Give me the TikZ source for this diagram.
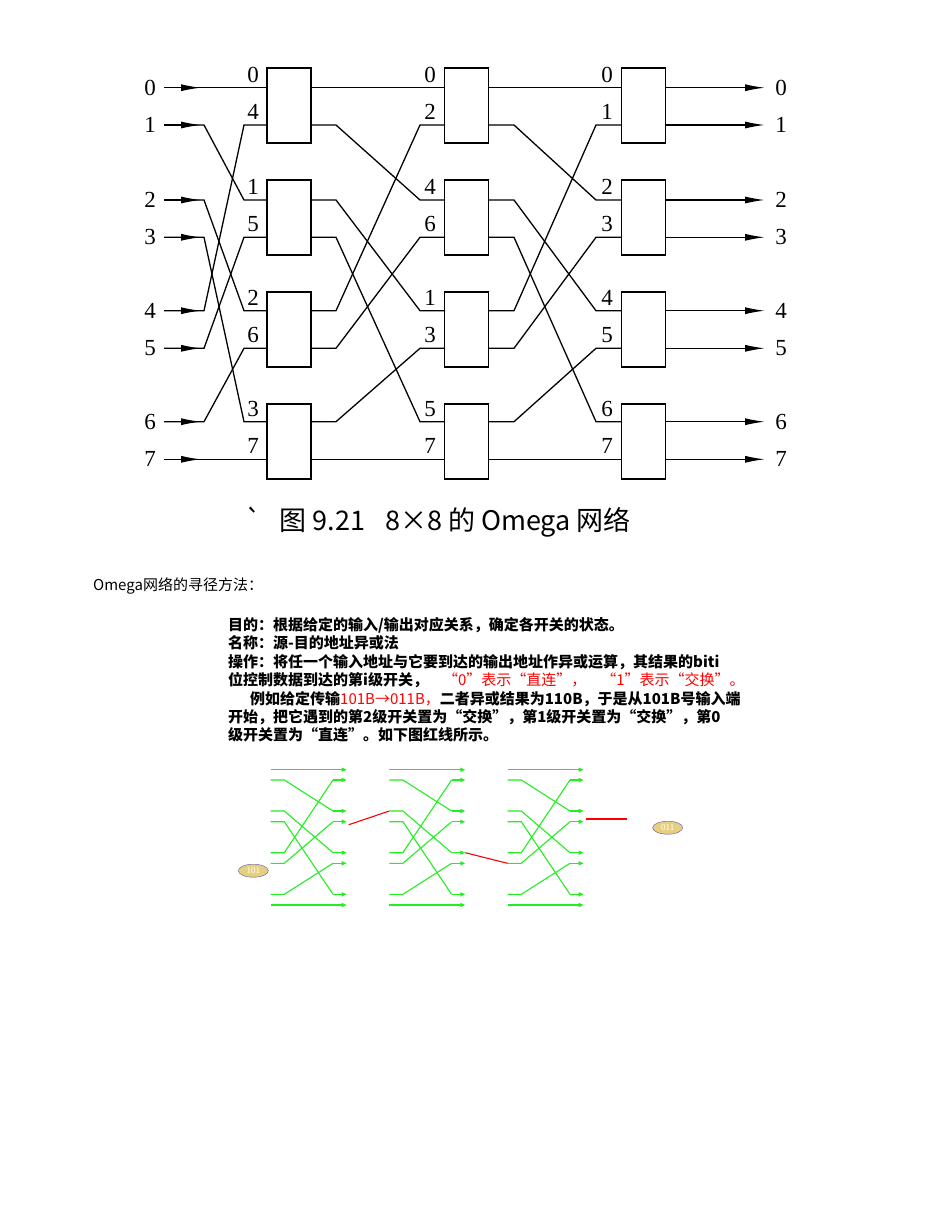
\documentclass[tikz,border=0pt]{standalone}
\usepackage{fontspec}
\setmainfont{Liberation Serif}
\newfontfamily\cjk{Noto Sans CJK SC}
\usetikzlibrary{arrows.meta,shapes.geometric}
\definecolor{gr}{HTML}{22EE22}
\definecolor{tan}{HTML}{E6CF80}
\begin{document}
\begin{tikzpicture}[x=1pt,y=-1pt,
  wire/.style={line width=1.3pt},
  sw/.style={draw,line width=1.3pt,minimum width=44pt,minimum height=75pt,inner sep=0pt},
  plab/.style={font=\fontsize{23}{23}\selectfont},
  bigarr/.style={line width=1.3pt,-{Latex[length=20pt,width=7pt]}},
  garr/.style={gr,line width=1.2pt,-{Triangle[length=5pt,width=4pt]}},
  gw/.style={gr,line width=1.1pt},
  rw/.style={red,line width=1.1pt},
  txt/.style={anchor=west,inner sep=0pt,font=\cjk\bfseries\fontsize{15}{15}\selectfont},
  addr/.style={ellipse,draw=gray!70!blue,fill=tan,minimum width=30pt,minimum height=13pt,inner sep=0pt,text=white,font=\fontsize{9}{9}\selectfont}]
\useasboundingbox[fill=white] (0,0) rectangle (935,1210);
\def\rows{{87.7,125,200,237.3,310.7,348.3,421.7,459.3}}
\def\sh{{0,2,4,6,1,3,5,7}}
\def\tops{{68,180,292,404}}
% boxes
\foreach \k in {0,...,3}{
  \pgfmathsetmacro\ty{\tops[\k]}
  \node[sw] (a\k) at (289,\ty+37.5) {};
  \node[sw] (b\k) at (466.5,\ty+37.5) {};
  \node[sw] (c\k) at (643.5,\ty+37.5) {};
}
% labels
\def\la{{0,4,1,5,2,6,3,7}}
\def\lb{{0,2,4,6,1,3,5,7}}
\foreach \j in {0,...,7}{
  \pgfmathsetmacro\y{\rows[\j]}
  \pgfmathtruncatemacro\A{\la[\j]}
  \pgfmathtruncatemacro\B{\lb[\j]}
  \node[plab] (li\j) at (150,\y) {\j};
  \node[plab] (lo\j) at (781,\y) {\j};
  \node[plab] (pa\j) at (253,\y-13) {\A};
  \node[plab] (pb\j) at (430,\y-13) {\B};
  \node[plab] (pc\j) at (607,\y-13) {\j};
  \pgfmathtruncatemacro\s{\sh[\j]}
  \pgfmathsetmacro\ys{\rows[\s]}
  \coordinate (i\j) at (164,\y);
  \draw[wire] (i\j) -- (204,\y) -- (244,\ys) -- (267,\ys);
  \draw[bigarr] (i\j) -- (201,\y);
  \draw[wire] (311,\y) -- (336,\y) -- (420,\ys) -- (445,\ys);
  \draw[wire] (488,\y) -- (514,\y) -- (596,\ys) -- (621,\ys);
  \coordinate (o\j) at (666,\y);
  \draw[bigarr] (o\j) -- (765,\y);
}
\node[anchor=west,inner sep=0pt,font=\cjk\fontsize{27}{27}\selectfont] (cap) at (245,522) {`\hspace{18pt}图 9.21\hspace{20pt}8×8 的 Omega 网络};
\node[anchor=west,inner sep=0pt,font=\cjk\fontsize{15}{15}\selectfont] (h) at (93,586) {Omega网络的寻径方法：};
\node[txt] (t1) at (228,625) {目的：根据给定的输入/输出对应关系，确定各开关的状态。};
\node[txt] (t2) at (228,643) {名称：源-目的地址异或法};
\node[txt] (t3) at (228,662) {操作：将任一个输入地址与它要到达的输出地址作异或运算，其结果的biti};
\node[txt] (t4) at (228,680) {位控制数据到达的第i级开关，\textcolor{red}{\mdseries\quad“0”表示“直连”，\quad“1”表示“交换”。}};
\node[txt] (t5) at (250,699) {例如给定传输\textcolor{red}{\mdseries 101B→011B，}二者异或结果为110B，于是从101B号输入端};
\node[txt] (t6) at (228,717) {开始，把它遇到的第2级开关置为“交换”，第1级开关置为“交换”，第0};
\node[txt] (t7) at (228,735) {级开关置为“直连”。如下图红线所示。};
% bottom green network
\def\gr{{769.7,780,811,821.7,852.7,863.3,894.3,905}}
\foreach \xs/\nm in {270.7/A,389.3/B,507.7/C}{
  \foreach \j in {0,...,7}{
    \pgfmathsetmacro\y{\gr[\j]}
    \pgfmathtruncatemacro\s{\sh[\j]}
    \pgfmathsetmacro\ys{\gr[\s]}
    \coordinate (g\nm\j) at (\xs,\y);
    \coordinate (h\nm\s) at (\xs+76,\ys);
    \draw[gw] (g\nm\j) -- ++(13.6,0) -- (\xs+62.3,\ys);
    \draw[garr] (\xs+62.3,\ys) -- (h\nm\s);
  }
}
\draw[rw] (hA3) ++(2,3) -- (gB2);
\draw[rw] (hB4) -- (gC5);
\coordinate (rend) at (627,819);
\draw[rw] (hC3) ++(2,-2.7) -- (rend);
\node[addr] (s101) at (253.3,870.7) {101};
\node[addr] (d011) at (667.7,827.7) {011};
\end{tikzpicture}
\end{document}
